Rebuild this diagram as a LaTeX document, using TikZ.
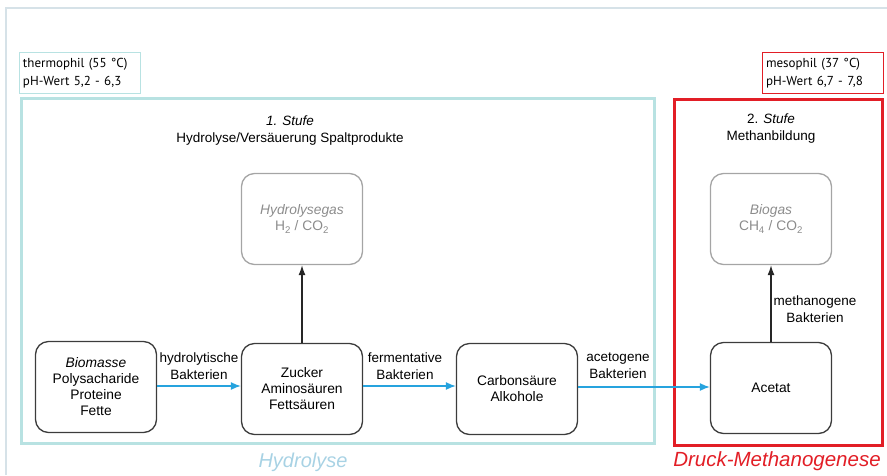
\documentclass[tikz,border=0pt]{standalone}
\usepackage{fontspec}
\setmainfont{Liberation Sans}
\newfontfamily\condfont{PT Sans}
\usepackage{tikz}
\usetikzlibrary{arrows.meta}

\definecolor{framecol}{RGB}{214,226,232}
\definecolor{tealline}{RGB}{184,226,226}
\definecolor{hydroblue}{RGB}{168,210,228}
\definecolor{mesored}{RGB}{226,30,38}
\definecolor{flowblue}{RGB}{38,163,222}
\definecolor{boxgray}{RGB}{60,60,60}
\definecolor{gasgray}{RGB}{165,165,165}
\definecolor{gastext}{RGB}{140,140,140}

\tikzset{
  stage/.style={draw=boxgray, line width=1.3pt, rounded corners=13pt,
    minimum width=121pt, minimum height=91pt, align=center,
    font=\fontsize{13.8}{16}\selectfont},
  gasbox/.style={stage, draw=gasgray, text=gastext},
  flow/.style={draw=flowblue, line width=1.3pt, -{Latex[length=10pt,width=8pt]}},
  lift/.style={draw=black!85, line width=1.3pt, -{Latex[length=10pt,width=7pt]}},
  tag/.style={align=center, font=\fontsize{13.5}{17}\selectfont},
  cond/.style={draw, line width=1pt, minimum width=121pt, minimum height=41pt,
    text width=113pt, inner sep=4pt, align=left,
    font=\condfont\fontsize{13}{18}\selectfont},
}

\begin{document}
\begin{tikzpicture}[x=1pt,y=-1pt]
\useasboundingbox (0,0) rectangle (887,475);

% outer frame and the two stages
\draw[framecol, line width=1.5pt] (6,475) -- (6,8) -- (887,8);
\draw[tealline, line width=3pt] (21,98) rectangle (654,443);
\draw[mesored, line width=3pt] (674,99) rectangle (882,445);

\node[cond, draw=tealline] (thermo) at (79.5,73) {thermophil (55 °C)\\pH-Wert 5,2 - 6,3};
\node[cond, draw=mesored] (meso) at (822.5,73) {mesophil (37 °C)\\pH-Wert 6,7 - 7,8};

\node[tag] (stage1) at (290,131) {\itshape 1. Stufe\\Hydrolyse/Versäuerung Spaltprodukte};
\node[tag] (stage2) at (771,129) {2. \textit{Stufe}\\Methanbildung};

% gas products
\node[gasbox] (hgas) at (302,219) {\textit{Hydrolysegas}\\H\textsubscript{2} / CO\textsubscript{2}};
\node[gasbox] (biogas) at (771,219) {\textit{Biogas}\\CH\textsubscript{4} / CO\textsubscript{2}};

% process chain
\node[stage] (biomass) at (96,387) {\textit{Biomasse}\\Polysacharide\\Proteine\\Fette};
\node[stage] (sugar) at (302,389) {Zucker\\Aminosäuren\\Fettsäuren};
\node[stage] (acid) at (517,389) {Carbonsäure\\Alkohole};
\node[stage] (acetat) at (771,388) {Acetat};

\draw[flow] (biomass.east |- 0,386) -- (sugar.west |- 0,386);
\draw[flow] (sugar.east |- 0,386) -- (acid.west |- 0,386);
\draw[flow] (acid.east |- 0,387) -- (acetat.west |- 0,387);
\draw[lift] (sugar) -- (hgas);
\draw[lift] (acetat) -- (biogas);

\node[tag] (bact1) at (199,366) {hydrolytische\\Bakterien};
\node[tag] (bact2) at (405,366) {fermentative\\Bakterien};
\node[tag] (bact3) at (618,366) {acetogene\\Bakterien};
\node[tag] (bact4) at (815,309) {methanogene\\Bakterien};

\node[font=\itshape\fontsize{20}{24}\selectfont, text=hydroblue] (hydro) at (303,462) {Hydrolyse};
\node[font=\itshape\fontsize{20.5}{24}\selectfont, text=mesored] (druck) at (777,461) {Druck-Methanogenese};
\end{tikzpicture}
\end{document}
